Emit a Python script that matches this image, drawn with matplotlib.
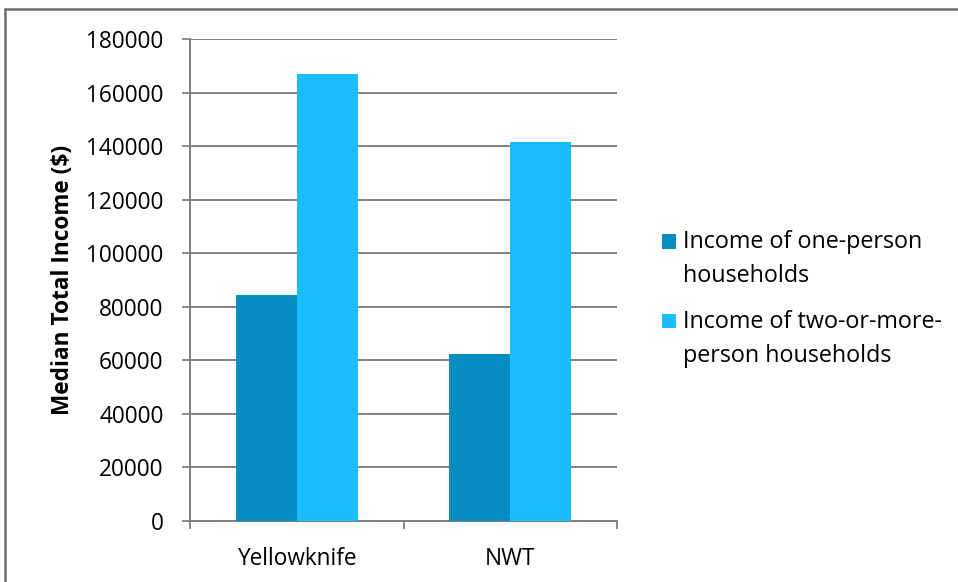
import numpy as np
import matplotlib
matplotlib.use('Agg')
import matplotlib.pyplot as plt
from matplotlib.patches import Rectangle
from matplotlib.legend_handler import HandlerPatch

plt.rcParams['font.family'] = ['Open Sans', 'DejaVu Sans']

# Data
regions = ['Yellowknife', 'NWT']
one_person = [84500, 62400]
two_or_more = [166900, 141600]
series_labels = ['Income of one-person\nhouseholds', 'Income of two-or-more-\nperson households']
colors = ['#058CC1', '#1ABEFF']
yticks = np.arange(0, 180001, 20000)

fig = plt.figure(figsize=(9.58, 5.82), dpi=100)
ax = fig.add_axes([190 / 958, 1 - 520.7 / 582, 427 / 958, (520.7 - 39.3) / 582])

x = np.arange(len(regions))
w = 0.285
b1 = ax.bar(x - w / 2, one_person, w, color=colors[0], label=series_labels[0], zorder=3)
b2 = ax.bar(x + w / 2, two_or_more, w, color=colors[1], label=series_labels[1], zorder=3)

ax.set_xlim(-0.5, len(regions) - 0.5)
ax.set_ylim(0, 180000)
ax.set_yticks(yticks)
ax.set_yticklabels([str(v) for v in yticks], fontsize=16.3)
ax.yaxis.grid(True, color='#808080', linewidth=1.4, zorder=0)

# category boundaries as ticks, labels at centres
ax.set_xticks(np.arange(-0.5, len(regions), 1.0))
ax.set_xticklabels([])
ax.set_xticks(x, minor=True)
ax.set_xticklabels(regions, minor=True, fontsize=16.3)
ax.tick_params(axis='x', which='minor', length=0, pad=19)
ax.tick_params(axis='x', which='major', length=6, width=1.3, color='#808080')
ax.tick_params(axis='y', length=6, width=1.3, color='#808080', pad=13)

for s in ['top', 'right']:
    ax.spines[s].set_visible(False)
for s in ['left', 'bottom']:
    ax.spines[s].set_color('#808080')
    ax.spines[s].set_linewidth(1.4)

ax.set_ylabel('Median Total Income ($)', fontsize=16.3, fontweight='bold', labelpad=8)


# legend square sits next to the first line of a two-line label
def top_square(legend, orig_handle, xdescent, ydescent, width, height, fontsize):
    return Rectangle((-xdescent, -ydescent + 0.8 * fontsize), width, height)


handles = [b1.patches[0], b2.patches[0]]
leg = fig.legend(handles=handles, labels=series_labels, loc='center left',
                 bbox_to_anchor=(641 / 958, 1 - 299 / 582), frameon=False,
                 fontsize=16.8, handlelength=0.6, handleheight=0.6,
                 handletextpad=0.3, labelspacing=0.9,
                 handler_map={Rectangle: HandlerPatch(patch_func=top_square)})
for t in leg.get_texts():
    t.set_linespacing(1.6)

# outer chart border (only top and left edges are inside the picture)
fig.patches.append(Rectangle((5 / 958, -0.1), 1.2, 1.1 - 9 / 582,
                             transform=fig.transFigure, fill=False,
                             edgecolor='#6E6E6E', linewidth=1.8))

fig.savefig('out.png', dpi=100)
